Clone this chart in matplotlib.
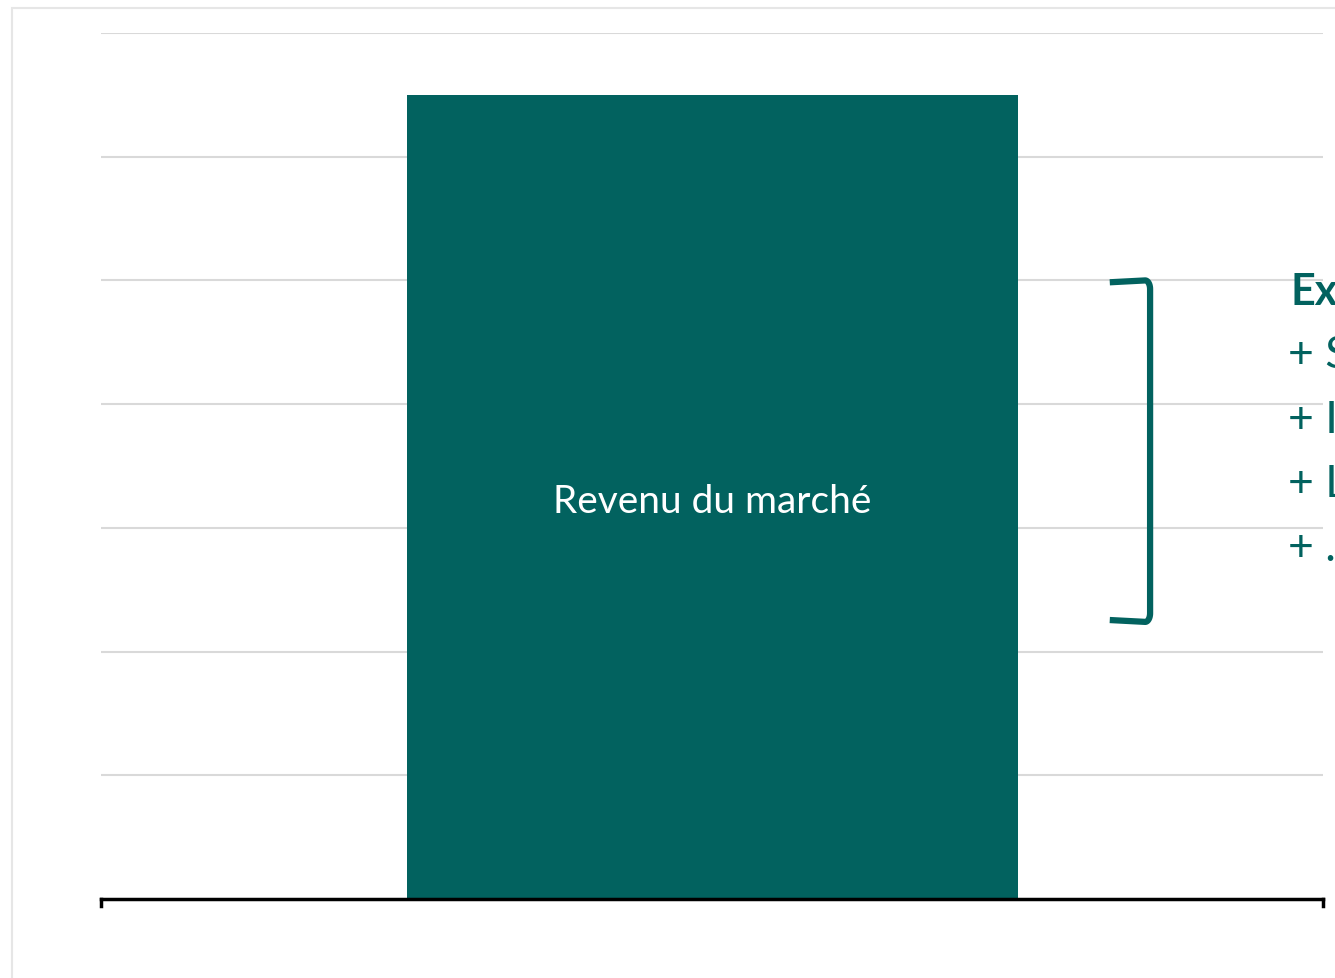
import numpy as np
import matplotlib.pyplot as plt
from matplotlib.patches import Rectangle

plt.rcParams['font.family'] = ['Lato', 'DejaVu Sans']

# données
categories = ['Revenu du marché']
valeurs = [6.5]
accolade = (2.24, 5.0)
titre_note = 'Exemples'
lignes_note = ['+ Subventions', '+ Intérêts', '+ Locations', '+ ...']

VERT = '#02625F'
GRIS = '#d9d9d9'

fig = plt.figure(figsize=(13.35, 9.79), dpi=100)
ax = fig.add_axes([101 / 1335, 79 / 979, 1222 / 1335, 866 / 979])

# cadre gris autour de la figure
fig.patches.append(Rectangle((12 / 1335, -0.1), 1.2, 1.1 - 9 / 979,
                             transform=fig.transFigure, fill=False,
                             edgecolor='#e6e6e6', linewidth=1.5, zorder=0))

ax.bar([0], valeurs, width=1.0, color=VERT, zorder=3)
ax.text(0, valeurs[0] * 0.5 - 0.03, categories[0], color='white', fontsize=28,
        ha='center', va='center', zorder=4)

ax.set_xlim(-1, 1)
ax.set_ylim(0, 7)
ax.set_yticks(range(1, 8))
ax.grid(axis='y', color=GRIS, linewidth=1.5, zorder=0)
ax.set_xticks([])
ax.tick_params(axis='y', length=0, labelleft=False)
for s in ['top', 'right', 'left']:
    ax.spines[s].set_visible(False)
ax.spines['bottom'].set_linewidth(2.5)
ax.spines['bottom'].set_zorder(5)
ax.plot([-1, -1], [0, -0.06], color='black', lw=2.5, clip_on=False, zorder=5)
ax.plot([1, 1], [0, -0.06], color='black', lw=2.5, clip_on=False, zorder=5)

# cache blanc sous la note
ax.add_patch(Rectangle((0.754, 1.5), 0.4, 4.0, facecolor='white',
                       edgecolor='none', zorder=1, clip_on=False))

# accolade (coins arrondis)
y0, y1 = accolade
t = np.linspace(0, np.pi / 2, 12)
rx, ry = 0.008, 0.07
xr = 0.717
haut_x = xr - rx + rx * np.sin(t)
haut_y = y1 - ry + ry * np.cos(t)
bas_x = haut_x[::-1]
bas_y = y0 + ry - ry * np.cos(t[::-1])
xs = np.concatenate([[0.651], haut_x, bas_x, [0.651]])
ys = np.concatenate([[y1 - 0.015], haut_y, bas_y, [y0 + 0.015]])
ax.plot(xs, ys, color=VERT, lw=4.5, solid_capstyle='butt', zorder=4)

fig.text(1290 / 1335, 1 - 292 / 979, titre_note, color=VERT, fontsize=31,
         fontweight='bold', ha='left', va='center')
for i, ligne in enumerate(lignes_note):
    fig.text(1288 / 1335, 1 - (356 + 64.3 * i) / 979, ligne, color=VERT,
             fontsize=32, ha='left', va='center')

fig.savefig('out.png', dpi=100)
